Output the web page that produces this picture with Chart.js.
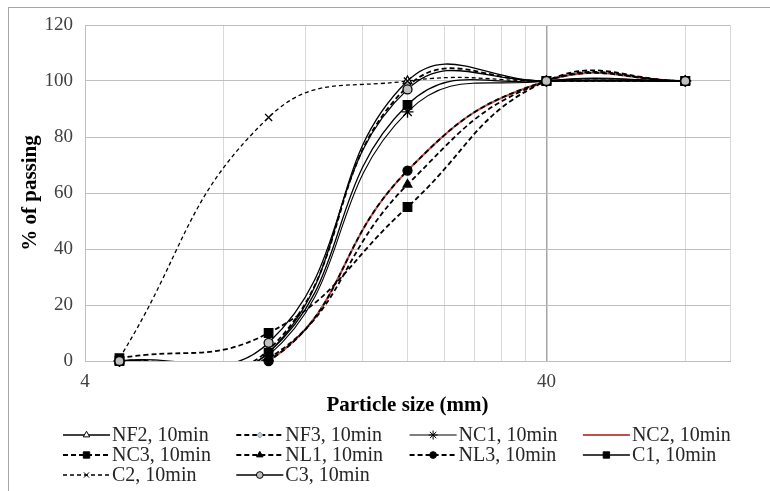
<!DOCTYPE html>
<html>
<head>
<meta charset="utf-8">
<script src="https://cdn.jsdelivr.net/npm/chart.js@4.4.1/dist/chart.umd.min.js"></script>
<style>
  html, body { margin: 0; padding: 0; background: #fff; }
  #wrap { width: 770px; height: 491px; }
</style>
</head>
<body>
<div id="wrap"><canvas id="c" width="770" height="491"></canvas></div>
<script>
// sieve sizes (mm) and % passing per mix
const sizes = [4.75, 10, 20, 40, 80];
const seriesNames = ['NF2, 10min', 'NF3, 10min', 'NC1, 10min', 'NC2, 10min', 'NC3, 10min',
                     'NL1, 10min', 'NL3, 10min', 'C1, 10min', 'C2, 10min', 'C3, 10min'];
const NF2 = [0, 3, 100, 100, 100];
const NF3 = [0, 4, 98, 100, 100];
const NC1 = [0, 2, 89, 100, 100];
const NC2 = [0, 0, 68, 100, 100];
const NC3 = [1, 10, 55, 100, 100];
const NL1 = [0, 1, 63, 100, 100];
const NL3 = [0, 0, 68, 100, 100];
const C1  = [0, 3, 91.5, 100, 100];
const C2  = [1, 87, 100, 100, 100];
const C3  = [0, 6.5, 97, 100, 100];
const seriesValues = [NF2, NF3, NC1, NC2, NC3, NL1, NL3, C1, C2, C3];
const xTickLabels = [4, 40];
const xGridValues = [4, 8, 12, 16, 20, 24, 28, 32, 36, 40, 80, 100];

const FONT = "'Liberation Serif', 'Times New Roman', serif";
const DASH = [5, 3];

// line + marker looks, same order as seriesNames
const looks = [
  { color: '#000', width: 1.3, dash: [], style: 'triangle', r: 5, fill: '#fff' },
  { color: '#000', width: 1.8, dash: DASH, style: 'rectRot', r: 4, fill: '#c3cbdb', stroke: '#8a97b0' },
  { color: '#000', width: 1.1, dash: [], style: 'star', r: 6, fill: '#000' },
  { color: '#c0504d', width: 2, dash: [], style: false, r: 0, fill: '#c0504d' },
  { color: '#000', width: 1.8, dash: DASH, style: 'rect', r: 6, fill: '#000' },
  { color: '#000', width: 1.8, dash: DASH, style: 'triangle', r: 5, fill: '#000' },
  { color: '#000', width: 1.8, dash: DASH, style: 'circle', r: 4.5, fill: '#000' },
  { color: '#000', width: 1.3, dash: [], style: 'rect', r: 6, fill: '#000' },
  { color: '#000', width: 1.3, dash: [4, 3], style: 'crossRot', r: 5, fill: '#000' },
  { color: '#000', width: 1.3, dash: [], style: 'circle', r: 4.5, fill: '#c0c0c0' }
];

const datasets = [];
seriesNames.forEach((name, i) => {
  const lk = looks[i];
  const pts = sizes.map((x, j) => ({ x: x, y: seriesValues[i][j] }));
  datasets.push({
    label: name,
    data: pts,
    borderColor: lk.color,
    borderWidth: lk.width,
    borderDash: lk.dash,
    pointRadius: 0,
    tension: 0.45,
    fill: false,
    clip: 0,
    order: 100 - i
  });
  if (lk.style) {
    datasets.push({
      label: name + ' markers',
      data: pts,
      showLine: false,
      pointStyle: lk.style,
      pointRadius: lk.r,
      pointBackgroundColor: lk.fill,
      pointBorderColor: lk.stroke || '#000',
      pointBorderWidth: 1.3,
      clip: false,
      order: 50 - i
    });
  }
});

const frameAndLegend = {
  id: 'frameAndLegend',
  beforeDraw(chart) {
    const ctx = chart.ctx;
    ctx.save();
    ctx.fillStyle = '#fff';
    ctx.fillRect(0, 0, chart.width, chart.height);
    ctx.strokeStyle = '#a6a6a6';
    ctx.lineWidth = 1;
    ctx.strokeRect(8.5, 7.5, 800, 520);
    ctx.restore();
  },
  afterDraw(chart) {
    const ctx = chart.ctx;
    ctx.save();
    ctx.font = '20px ' + FONT;
    ctx.textBaseline = 'middle';
    seriesNames.forEach((name, i) => {
      const lk = looks[i];
      const col = i % 4, row = Math.floor(i / 4);
      const x0 = 63 + col * 173.3, x1 = x0 + 47;
      const y = 435 + row * 20;
      ctx.strokeStyle = lk.color;
      ctx.lineWidth = lk.width;
      ctx.setLineDash(lk.dash);
      ctx.beginPath();
      ctx.moveTo(x0, y);
      ctx.lineTo(x1, y);
      ctx.stroke();
      ctx.setLineDash([]);
      if (lk.style) {
        ctx.fillStyle = lk.fill;
        ctx.strokeStyle = lk.stroke || '#000';
        ctx.lineWidth = 1;
        Chart.helpers.drawPoint(ctx, { pointStyle: lk.style, radius: lk.r * 0.75, rotation: 0, borderWidth: 1 }, (x0 + x1) / 2, y);
      }
      ctx.fillStyle = '#262626';
      ctx.fillText(name, x1 + 2, y + 1);
    });
    ctx.restore();
  }
};

new Chart(document.getElementById('c'), {
  type: 'line',
  data: { datasets: datasets },
  plugins: [frameAndLegend],
  options: {
    responsive: false,
    animation: false,
    events: [],
    layout: { padding: { left: 14, right: 40, top: 25, bottom: 71 } },
    elements: { line: { capBezierPoints: false } },
    plugins: { legend: { display: false }, tooltip: { enabled: false } },
    scales: {
      x: {
        type: 'logarithmic',
        min: 4,
        max: 100,
        afterBuildTicks(scale) { scale.ticks = xGridValues.map(v => ({ value: v })); },
        afterFit(scale) { scale.height = 59; },
        grid: {
          drawTicks: false,
          color: c => (c.tick && c.tick.value === 40) ? '#a6a6a6' : '#d9d9d9',
          lineWidth: c => (c.tick && c.tick.value === 40) ? 1.5 : 1
        },
        border: { color: '#bfbfbf' },
        ticks: {
          autoSkip: false,
          maxRotation: 0,
          padding: 10,
          color: '#404040',
          font: { family: FONT, size: 19 },
          callback: v => xTickLabels.includes(v) ? String(v) : ''
        },
        title: {
          display: true,
          text: 'Particle size (mm)',
          color: '#000',
          font: { family: FONT, size: 21, weight: 'bold' },
          padding: { top: 0, bottom: 2 }
        }
      },
      y: {
        min: 0,
        max: 120,
        afterFit(scale) { scale.width = 71; },
        grid: { drawTicks: false, color: '#bfbfbf' },
        border: { color: '#bfbfbf' },
        ticks: {
          stepSize: 20,
          padding: 12,
          color: '#404040',
          font: { family: FONT, size: 19 }
        },
        title: {
          display: true,
          text: '% of passing',
          color: '#000',
          font: { family: FONT, size: 21, weight: 'bold' },
          padding: { top: 4, bottom: 4 }
        }
      }
    }
  }
});
</script>
</body>
</html>
